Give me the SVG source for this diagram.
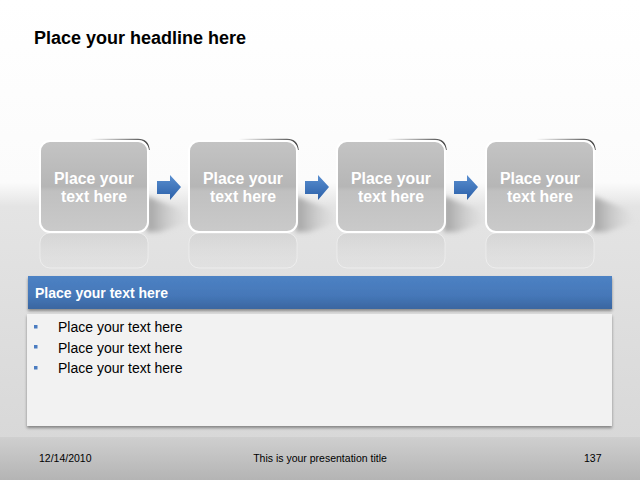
<svg xmlns="http://www.w3.org/2000/svg" width="640" height="480" viewBox="0 0 640 480">
<defs>
<linearGradient id="bg" x1="0" y1="0" x2="0" y2="1">
<stop offset="0" stop-color="#ffffff"/>
<stop offset="0.38" stop-color="#fbfbfb"/>
<stop offset="0.43" stop-color="#e4e4e4"/>
<stop offset="1" stop-color="#d6d6d6"/>
</linearGradient>
<linearGradient id="foot" x1="0" y1="0" x2="0" y2="1">
<stop offset="0" stop-color="#cfcfcf"/>
<stop offset="1" stop-color="#b4b4b4"/>
</linearGradient>
<linearGradient id="box" x1="0" y1="0" x2="0" y2="1">
<stop offset="0" stop-color="#c4c4c4"/>
<stop offset="0.5" stop-color="#b6b6b6"/>
<stop offset="0.55" stop-color="#c0c0c0"/>
<stop offset="1" stop-color="#cacaca"/>
</linearGradient>
<linearGradient id="refl" x1="0" y1="0" x2="0" y2="1">
<stop offset="0" stop-color="#cccccc" stop-opacity="0.6"/>
<stop offset="1" stop-color="#d8d8d8" stop-opacity="0"/>
</linearGradient>
<linearGradient id="shad" x1="0" y1="0" x2="1" y2="0">
<stop offset="0" stop-color="#909090" stop-opacity="0.8"/>
<stop offset="1" stop-color="#c8c8c8" stop-opacity="0"/>
</linearGradient>
<linearGradient id="rimg" x1="0" y1="0" x2="1" y2="0">
<stop offset="0" stop-color="#404040" stop-opacity="0"/>
<stop offset="1" stop-color="#303030" stop-opacity="0.9"/>
</linearGradient>
<linearGradient id="blue" x1="0" y1="0" x2="0" y2="1">
<stop offset="0" stop-color="#4d82c4"/>
<stop offset="0.6" stop-color="#4577b8"/>
<stop offset="1" stop-color="#3a66a0"/>
</linearGradient>
<linearGradient id="arr" x1="0" y1="0" x2="0" y2="1">
<stop offset="0" stop-color="#5a8fd0"/>
<stop offset="1" stop-color="#2a5fa8"/>
</linearGradient>
<filter id="ds" x="-5%" y="-10%" width="110%" height="130%">
<feGaussianBlur in="SourceAlpha" stdDeviation="1.5"/>
<feOffset dx="0" dy="2"/>
<feComponentTransfer><feFuncA type="linear" slope="0.4"/></feComponentTransfer>
<feMerge><feMergeNode/><feMergeNode in="SourceGraphic"/></feMerge>
</filter>
<filter id="blur" x="-20%" y="-20%" width="140%" height="140%"><feGaussianBlur stdDeviation="2.5"/></filter>
<path id="arrowShape" d="M0,6 H13 V0 L24,12 L13,25 V19 H0 Z"/>
</defs>
<style>
.bx{fill:url(#box);stroke:#ffffff;stroke-width:2}
.rim{fill:none;stroke:url(#rimg);stroke-width:1.5}
.bt{font-family:"Liberation Sans",Arial,sans-serif;font-weight:bold;font-size:15.8px;fill:#ffffff;text-anchor:middle}
.tx{font-family:"Liberation Sans",Arial,sans-serif;font-size:14px;fill:#000000}
.ft{font-family:"Liberation Sans",Arial,sans-serif;font-size:10.5px;fill:#000000}
.sh{fill:url(#shad)}
</style>
<rect x="0" y="0" width="640" height="480" fill="url(#bg)"/>
<rect x="0" y="437" width="640" height="43" fill="url(#foot)"/>
<text x="34" y="44" font-family="Liberation Sans,Arial,sans-serif" font-weight="bold" font-size="18" fill="#000">Place your headline here</text>

<g id="shadows" filter="url(#blur)">
<polygon class="sh" points="147,196 182,210 190,222 160,232 147,232"/>
<polygon class="sh" points="296,196 331,210 339,222 309,232 296,232"/>
<polygon class="sh" points="444,196 479,210 487,222 457,232 444,232"/>
<polygon class="sh" points="593,196 628,210 636,222 606,232 593,232"/>
</g>

<g id="node1">
<rect x="40" y="233" width="108" height="35" rx="10" fill="url(#refl)" stroke="#ffffff" stroke-opacity="0.4"/>
<path class="rim" d="M90,139.5 H138 Q148,139.5 149,150"/>
<rect class="bx" x="40" y="141" width="108" height="91" rx="10"/>
<text class="bt" x="94" y="184">Place your</text>
<text class="bt" x="94" y="202">text here</text>
</g>
<g id="node2">
<rect x="189" y="233" width="108" height="35" rx="10" fill="url(#refl)" stroke="#ffffff" stroke-opacity="0.4"/>
<path class="rim" d="M239,139.5 H287 Q297,139.5 298,150"/>
<rect class="bx" x="189" y="141" width="108" height="91" rx="10"/>
<text class="bt" x="243" y="184">Place your</text>
<text class="bt" x="243" y="202">text here</text>
</g>
<g id="node3">
<rect x="337" y="233" width="108" height="35" rx="10" fill="url(#refl)" stroke="#ffffff" stroke-opacity="0.4"/>
<path class="rim" d="M387,139.5 H435 Q445,139.5 446,150"/>
<rect class="bx" x="337" y="141" width="108" height="91" rx="10"/>
<text class="bt" x="391" y="184">Place your</text>
<text class="bt" x="391" y="202">text here</text>
</g>
<g id="node4">
<rect x="486" y="233" width="108" height="35" rx="10" fill="url(#refl)" stroke="#ffffff" stroke-opacity="0.4"/>
<path class="rim" d="M536,139.5 H584 Q594,139.5 595,150"/>
<rect class="bx" x="486" y="141" width="108" height="91" rx="10"/>
<text class="bt" x="540" y="184">Place your</text>
<text class="bt" x="540" y="202">text here</text>
</g>

<g id="connectors" fill="url(#arr)">
<use href="#arrowShape" x="157" y="175"/>
<use href="#arrowShape" x="305" y="175"/>
<use href="#arrowShape" x="454" y="175"/>
</g>

<g id="panel">
<rect x="27" y="314" width="585" height="112" fill="#f2f2f2" filter="url(#ds)"/>
<rect x="28" y="276" width="584" height="33" fill="url(#blue)" filter="url(#ds)"/>
<text x="35" y="298" font-family="Liberation Sans,Arial,sans-serif" font-weight="bold" font-size="14" fill="#ffffff">Place your text here</text>
<g fill="#4a7cc0">
<rect x="34" y="325" width="3.5" height="3.5"/>
<rect x="34" y="345" width="3.5" height="3.5"/>
<rect x="34" y="366" width="3.5" height="3.5"/>
</g>
<text class="tx" x="58" y="332">Place your text here</text>
<text class="tx" x="58" y="353">Place your text here</text>
<text class="tx" x="58" y="373">Place your text here</text>
</g>

<g id="footer">
<text class="ft" x="39" y="462">12/14/2010</text>
<text class="ft" x="320" y="462" text-anchor="middle">This is your presentation title</text>
<text class="ft" x="584" y="462">137</text>
</g>
</svg>
